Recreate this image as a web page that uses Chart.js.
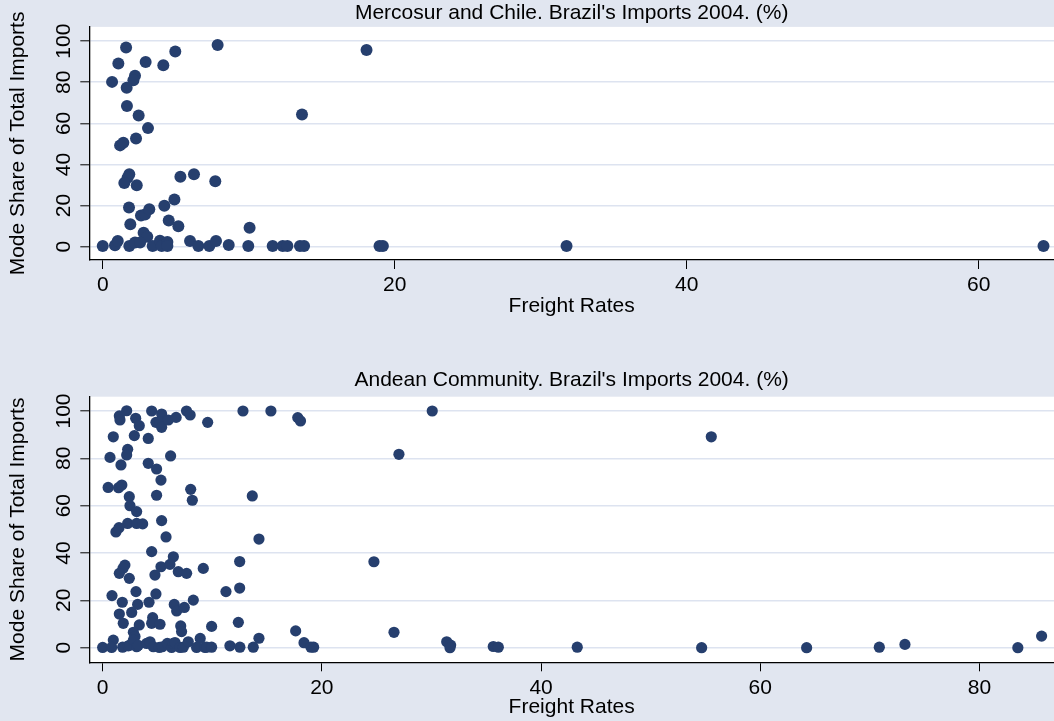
<!DOCTYPE html>
<html>
<head>
<meta charset="utf-8">
<script src="https://cdn.jsdelivr.net/npm/chart.js@4/dist/chart.umd.min.js"></script>
<style>
  html, body { margin: 0; padding: 0; background: #e1e6f0; }
  body { width: 1054px; height: 721px; position: relative; overflow: hidden; }
  canvas { position: absolute; left: 0; }
  #top { top: 0; }
  #bottom { top: 360px; }
</style>
</head>
<body>
<canvas id="top" width="1054" height="330"></canvas>
<canvas id="bottom" width="1054" height="361"></canvas>
<script>
// tick labels
const yTicks = [0, 20, 40, 60, 80, 100];
const mercosurXTicks = [0, 20, 40, 60];
const andeanXTicks = [0, 20, 40, 60, 80];

// Mercosur and Chile: freight rate (x) and mode share (y)
const mercosurRates = [
  1.60, 1.07, 2.94, 4.15, 4.97, 7.87, 18.07, 0.64, 2.21, 2.10,
  1.64, 1.66, 2.46, 13.65, 3.10, 2.28, 1.19, 1.41, 1.82, 1.70,
  1.48, 2.33, 5.32, 6.25, 7.71, 1.80, 4.22, 4.91, 2.62, 2.90,
  3.19, 1.89, 4.52, 5.18, 10.06, 2.80, 3.05, 0.00, 0.84, 1.03,
  1.82, 2.21, 2.56, 3.42, 3.92, 4.04, 4.43, 4.43, 5.98, 6.55,
  7.30, 7.76, 8.63, 9.97, 11.64, 12.33, 12.65, 13.51, 13.79, 18.96,
  19.19, 31.77, 64.44
];
const mercosurShares = [
  96.9, 89.1, 89.9, 88.3, 95.0, 98.2, 95.7, 80.2, 83.2, 81.0,
  77.3, 68.5, 63.8, 64.3, 57.7, 52.7, 49.3, 50.6, 35.2, 33.5,
  31.0, 29.9, 34.0, 35.3, 31.8, 19.1, 19.9, 23.0, 15.2, 15.7,
  18.2, 10.9, 12.7, 9.9, 9.2, 6.8, 4.8, 0.3, 0.7, 2.8,
  0.3, 2.0, 2.0, 0.3, 2.9, 0.3, 2.3, 0.3, 2.8, 0.3,
  0.3, 2.8, 0.8, 0.3, 0.3, 0.3, 0.3, 0.3, 0.3, 0.3,
  0.3, 0.3, 0.3
];

// Andean Community: freight rate (x) and mode share (y)
const andeanRates = [
  2.19, 4.47, 5.38, 7.65, 7.98, 12.80, 15.35, 30.07, 1.52, 1.58,
  3.01, 3.34, 4.86, 5.23, 5.38, 5.99, 6.70, 17.80, 18.05, 9.58,
  0.97, 2.89, 4.16, 55.53, 2.28, 2.19, 0.67, 6.20, 27.03, 1.67,
  4.16, 4.92, 5.32, 0.50, 1.45, 1.75, 8.03, 8.18, 4.92, 13.65,
  2.43, 2.49, 3.10, 2.28, 3.10, 3.65, 1.21, 1.49, 5.38, 5.78,
  14.26, 4.47, 6.45, 5.32, 4.77, 6.14, 6.90, 7.66, 9.18, 12.50,
  24.75, 2.03, 1.85, 1.52, 2.43, 3.04, 0.85, 4.86, 4.23, 1.79,
  3.19, 8.27, 11.25, 12.50, 6.53, 6.75, 7.45, 1.52, 2.65, 1.88,
  4.56, 4.47, 5.23, 7.12, 7.20, 9.94, 12.38, 3.34, 2.80, 2.95,
  0.97, 8.90, 14.26, 17.61, 18.37, 26.58, 0.00, 0.82, 1.82, 2.34,
  2.49, 2.80, 3.10, 3.25, 4.01, 4.32, 4.62, 5.17, 5.44, 5.90,
  6.29, 6.44, 6.60, 7.06, 7.36, 7.81, 8.57, 9.34, 9.49, 9.94,
  11.61, 12.52, 13.74, 19.00, 19.25, 31.39, 31.75, 31.69, 35.64, 36.10,
  43.30, 54.65, 64.23, 70.86, 73.20, 83.50, 85.67
];
const andeanShares = [
  100.1, 100.0, 98.7, 100.0, 98.3, 100.0, 100.0, 100.0, 97.9, 96.2,
  96.9, 93.8, 95.2, 95.5, 93.1, 96.2, 97.3, 97.2, 95.8, 95.2,
  89.1, 89.6, 88.4, 89.1, 83.8, 81.4, 80.4, 81.0, 81.7, 77.2,
  77.9, 75.5, 70.8, 67.7, 67.6, 68.7, 66.9, 62.3, 64.4, 64.1,
  63.8, 60.0, 57.5, 52.5, 52.5, 52.3, 48.9, 50.7, 53.7, 46.8,
  45.9, 40.6, 38.4, 34.2, 30.7, 35.2, 32.1, 31.4, 33.5, 36.4,
  36.3, 34.9, 33.5, 31.4, 29.3, 23.7, 22.0, 22.7, 19.2, 19.2,
  18.3, 20.1, 23.7, 25.2, 18.3, 15.5, 17.0, 14.2, 14.9, 10.3,
  12.7, 10.3, 9.9, 9.2, 6.8, 9.0, 10.7, 9.6, 6.5, 4.7,
  3.2, 3.9, 4.0, 7.1, 2.1, 6.5, 0.1, 0.1, 0.2, 0.8,
  1.1, 3.2, 0.4, 1.0, 1.8, 2.5, 0.4, 0.1, 0.4, 1.8,
  0.1, 1.8, 2.2, 0.1, 0.2, 2.5, 0.1, 0.1, 0.2, 0.2,
  0.8, 0.2, 0.2, 0.2, 0.2, 2.5, 1.1, 0.0, 0.5, 0.2,
  0.2, 0.0, 0.0, 0.2, 1.4, 0.0, 4.9
];

const FONT = "'Liberation Sans', Arial, sans-serif";
const navy = '#263f6e';
const gridColor = 'rgb(221,227,240)';

const plotFill = {
  id: 'plotFill',
  beforeDraw(chart) {
    const { ctx, chartArea: a } = chart;
    ctx.save();
    ctx.fillStyle = '#ffffff';
    ctx.fillRect(a.left, a.top, a.right - a.left, a.bottom - a.top);
    ctx.restore();
  }
};

// no extra room for the end labels, the plot runs to the edge
function noPad(s) {
  s.paddingLeft = 0;
  s.paddingRight = 0;
  s.paddingTop = 0;
  s.paddingBottom = 0;
}

function makeChart(id, cfg) {
  const points = cfg.rates.map((r, i) => ({ x: r, y: cfg.shares[i] }));
  return new Chart(document.getElementById(id), {
    type: 'scatter',
    data: {
      datasets: [{
        data: points,
        pointRadius: cfg.radius,
        pointBackgroundColor: navy,
        pointBorderWidth: 0
      }]
    },
    options: {
      responsive: false,
      animation: false,
      events: [],
      layout: { padding: 0, autoPadding: false },
      plugins: {
        legend: { display: false },
        tooltip: { enabled: false },
        title: {
          display: true,
          text: cfg.title,
          fullSize: false,
          color: '#000',
          font: { family: FONT, size: 21, weight: 'normal' },
          padding: cfg.titlePad
        }
      },
      scales: {
        x: {
          type: 'linear',
          min: cfg.xMin,
          max: cfg.xMax,
          afterBuildTicks: s => { s.ticks = cfg.xTicks.map(v => ({ value: v })); },
          afterFit: s => { s.height = cfg.xAxisHeight; noPad(s); },
          grid: { drawOnChartArea: false, tickColor: '#000', tickLength: 9, tickWidth: 1 },
          border: { display: true, color: '#000', width: 1.3 },
          ticks: {
            padding: 4, maxRotation: 0, color: '#000',
            font: { family: FONT, size: 21 },
            callback: v => String(v)
          },
          title: {
            display: true, text: 'Freight Rates', color: '#000',
            font: { family: FONT, size: 21 },
            padding: { top: 0, bottom: cfg.xTitlePad }
          }
        },
        y: {
          min: cfg.yMin,
          max: cfg.yMax,
          afterBuildTicks: s => { s.ticks = yTicks.map(v => ({ value: v })); },
          afterFit: s => { s.width = 89.3; noPad(s); },
          grid: { color: gridColor, lineWidth: 1.6, tickColor: '#000', tickLength: 9, tickWidth: 1 },
          border: { display: true, color: '#000', width: 1.3 },
          ticks: {
            minRotation: 90, maxRotation: 90, crossAlign: 'center', padding: -1.6,
            color: '#000', font: { family: FONT, size: 21 },
            callback: v => String(v)
          },
          title: {
            display: true, text: 'Mode Share of Total Imports', color: '#000',
            font: { family: FONT, size: 21 },
            padding: { top: 6, bottom: 0 }
          }
        }
      }
    },
    plugins: [plotFill]
  });
}

makeChart('top', {
  rates: mercosurRates, shares: mercosurShares, xTicks: mercosurXTicks,
  title: "Mercosur and Chile. Brazil's Imports 2004. (%)",
  xMin: -0.92, xMax: 65.16, yMin: -6.47, yMax: 106.95,
  radius: 6, titlePad: { top: 0.8, bottom: 0.9 },
  xAxisHeight: 70, xTitlePad: 10.7
});

makeChart('bottom', {
  rates: andeanRates, shares: andeanShares, xTicks: andeanXTicks,
  title: "Andean Community. Brazil's Imports 2004. (%)",
  xMin: -1.22, xMax: 86.8, yMin: -6.17, yMax: 106.04,
  radius: 5.6, titlePad: { top: 7.8, bottom: 3.7 },
  xAxisHeight: 58.7, xTitlePad: 0.7
});
</script>
</body>
</html>
